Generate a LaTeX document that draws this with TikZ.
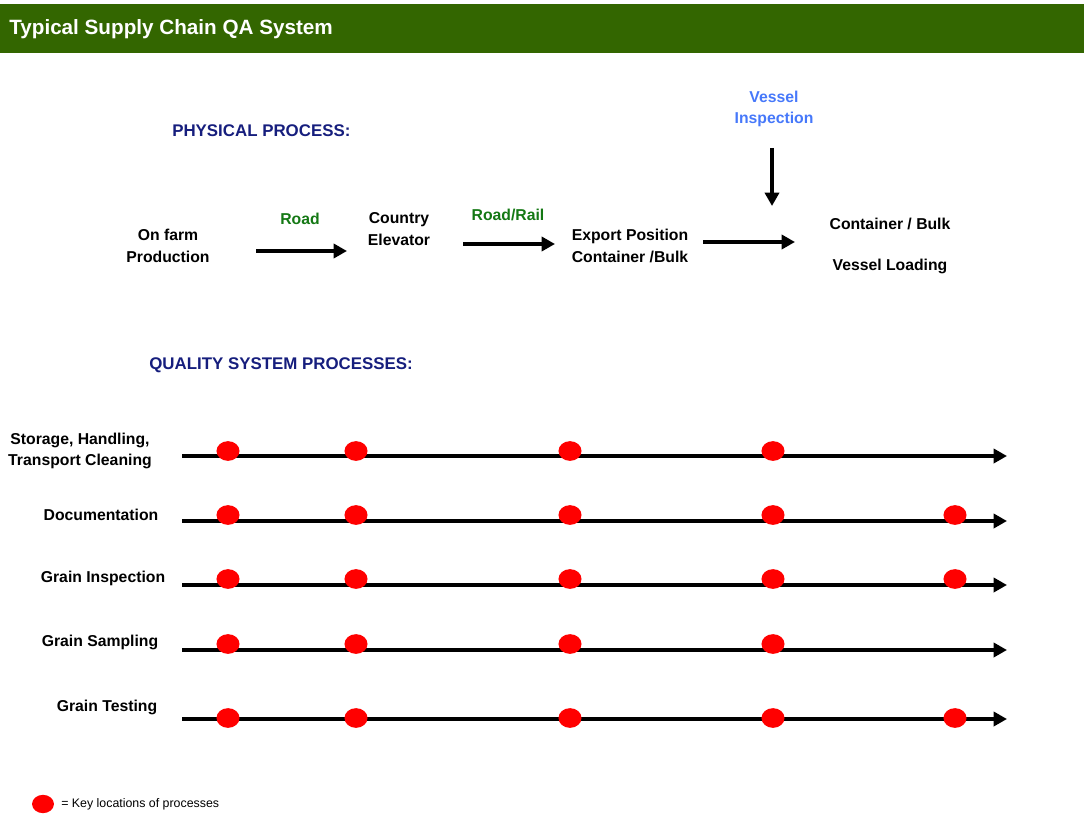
\documentclass[tikz,border=0pt]{standalone}
\usepackage{fontspec}
\setmainfont{Liberation Sans}
\usetikzlibrary{arrows.meta,shapes.geometric}
\definecolor{hdrgreen}{RGB}{51,102,0}
\definecolor{headnavy}{RGB}{22,30,125}
\definecolor{roadgreen}{RGB}{20,120,20}
\definecolor{vesselblue}{RGB}{70,120,250}

\begin{document}
\begin{tikzpicture}[x=0.025cm,y=-0.025cm,>={Triangle[length=9.5pt,width=10pt]},
    lbl/.style={font=\fontsize{11.2}{15.4}\selectfont\bfseries,align=center,inner sep=0pt},
    head/.style={font=\fontsize{12}{14}\selectfont\bfseries,text=headnavy,inner sep=0pt,anchor=west},
    flow/.style={line width=3pt,->},
    track/.style={line width=2.9pt,->},
    keydot/.style={ellipse,fill=red,inner sep=0pt,minimum width=16.4pt,minimum height=14pt}]
  \useasboundingbox (0,0) rectangle (1084,814);
  % title bar
  \fill[hdrgreen] (0,4) rectangle (1084,53);
  \node[anchor=west,inner sep=0pt,text=white,font=\fontsize{14.7}{16}\selectfont\bfseries] (title) at (9,29) {Typical Supply Chain QA System};

  % physical process
  \node[head] (phys) at (172,131) {PHYSICAL PROCESS:};
  \node[lbl] (farm) at (168,246) {On farm\\Production};
  \node[lbl] (elev) at (399,229) {Country\\Elevator};
  \node[lbl] (export) at (630,246) {Export Position\\Container /Bulk};
  \node[lbl] (loading) at (890,246) {Container / Bulk\\[13.8pt]Vessel Loading};
  \node[lbl,text=roadgreen] (road) at (300,219) {Road};
  \node[lbl,text=roadgreen] (rail) at (508,215) {Road/Rail};
  \node[lbl,text=vesselblue] (inspect) at (774,109) {Vessel\\Inspection};
  \coordinate (a1s) at (256,251); \coordinate (a1e) at (347,251);
  \coordinate (a2s) at (463,244); \coordinate (a2e) at (555,244);
  \coordinate (a3s) at (703,242); \coordinate (a3e) at (795,242);
  \coordinate (a4s) at (772,148); \coordinate (a4e) at (772,206);
  \draw[flow] (a1s) -- (a1e);
  \draw[flow] (a2s) -- (a2e);
  \draw[flow] (a3s) -- (a3e);
  \draw[flow] (a4s) -- (a4e);

  % quality system
  \node[head] (qual) at (149,365) {QUALITY SYSTEM PROCESSES:};
  \node[lbl,font=\fontsize{11.2}{15}\selectfont\bfseries] (store) at (80,451) {Storage, Handling,\\Transport Cleaning};
  \node[lbl] (docs) at (101,515) {Documentation};
  \node[lbl] (insp) at (103,578) {Grain Inspection};
  \node[lbl] (samp) at (100,642) {Grain Sampling};
  \node[lbl] (test) at (107,707) {Grain Testing};

  \foreach \r/\y/\dy/\last in {1/456/451/4,2/521/515/5,3/585/579/5,4/650/644/4,5/719/718/5}{
    \coordinate (s\r) at (182,\y);
    \coordinate (e\r) at (1007,\y);
    \draw[track] (s\r) -- (e\r);
    \foreach \c/\x in {1/228,2/356,3/570,4/773,5/955}{
      \ifnum\c>\last\else
        \node[keydot] (d\r\c) at (\x,\dy) {};
      \fi
    }
  }

  % key
  \node[keydot,minimum width=15.6pt,minimum height=13pt] (keyd) at (43,804) {};
  \node[anchor=west,inner sep=0pt,font=\fontsize{8.8}{10}\selectfont] (keyt) at (61,804) {= Key locations of processes};
\end{tikzpicture}
\end{document}
